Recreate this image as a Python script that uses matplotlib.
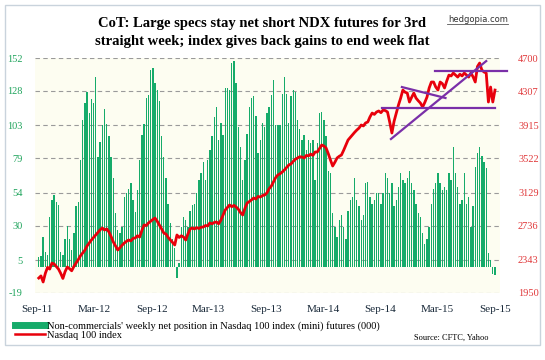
import pandas as pd
import matplotlib.pyplot as plt
from matplotlib.lines import Line2D
from matplotlib.patches import Rectangle

# datos semanales (estimados del grafico)
dates = pd.date_range('2011-09-06', periods=209, freq='7D')

net_position = [7, 8, 22, 11, 9, 36, 49, 52, 47, 45,
                11, 9, 20, 30, 20, 12, 25, 44, 47, 78,
                107, 119, 127, 112, 122, 119, 138, 80, 91, 103,
                115, 104, 95, 80, 65, 39, 27, 25, 29, 51,
                54, 57, 61, 49, 40, 56, 78, 96, 104, 123,
                125, 143, 145, 134, 129, 121, 95, 80, 65, 46,
                32, 20, 14, -8, 3, 29, 36, 34, 29, 41,
                45, 46, 54, 63, 68, 76, 63, 78, 85, 95,
                109, 116, 92, 105, 96, 130, 130, 129, 148, 150,
                134, 102, 87, 63, 78, 97, 116, 123, 124, 110,
                83, 92, 105, 102, 112, 116, 125, 136, 103, 103,
                103, 126, 138, 126, 105, 124, 129, 127, 107, 100,
                92, 96, 85, 92, 90, 92, 63, 90, 112, 113,
                107, 95, 70, 68, 39, 29, 22, 34, 38, 29,
                20, 41, 49, 51, 65, 49, 44, 34, 38, 61,
                62, 51, 46, 49, 54, 54, 46, 54, 68, 65,
                54, 61, 44, 49, 58, 68, 63, 61, 65, 70,
                61, 56, 46, 39, 36, 25, 17, 20, 29, 46,
                57, 61, 68, 61, 56, 58, 56, 68, 63, 87,
                68, 58, 46, 49, 68, 46, 51, 29, 44, 73,
                83, 87, 81, 76, 72, 10, 5, -5, -6]

ndx = [2125, 2150, 2079, 2180, 2250, 2230, 2300, 2290, 2260, 2230,
       2180, 2120, 2200, 2254, 2235, 2210, 2260, 2300, 2340, 2385,
       2418, 2450, 2500, 2535, 2570, 2600, 2629, 2660, 2690, 2710,
       2687, 2700, 2664, 2610, 2547, 2500, 2453, 2480, 2510, 2535,
       2555, 2570, 2560, 2590, 2594, 2620, 2605, 2680, 2746, 2740,
       2769, 2790, 2810, 2827, 2790, 2746, 2700, 2652, 2640, 2600,
       2570, 2540, 2512, 2629, 2600, 2620, 2605, 2570, 2640, 2700,
       2710, 2700, 2715, 2705, 2720, 2722, 2740, 2735, 2769, 2760,
       2775, 2781, 2760, 2800, 2860, 2921, 2950, 2980, 2960, 2975,
       2956, 2930, 2890, 2863, 2940, 3003, 3020, 3040, 3062, 3050,
       3080, 3073, 3090, 3097, 3120, 3170, 3200, 3250, 3300, 3331,
       3345, 3366, 3390, 3420, 3448, 3460, 3490, 3515, 3530, 3545,
       3541, 3530, 3560, 3555, 3575, 3560, 3600, 3600, 3640, 3682,
       3670, 3647, 3580, 3506, 3436, 3480, 3530, 3550, 3565, 3620,
       3680, 3740, 3770, 3800, 3830, 3857, 3880, 3916, 3905, 3940,
       3951, 4010, 4056, 4040, 4068, 4080, 4060, 4091, 4085, 4068,
       3950, 3822, 3960, 4056, 4150, 4231, 4325, 4300, 4290, 4185,
       4240, 4290, 4231, 4200, 4173, 4126, 4180, 4243, 4350, 4419,
       4419, 4360, 4325, 4419, 4400, 4349, 4430, 4500, 4490, 4524,
       4500, 4477, 4510, 4490, 4524, 4500, 4477, 4524, 4480, 4419,
       4600, 4641, 4560, 4536, 4524, 4185, 4360, 4185, 4325]

left_ticks = [-19, 5, 30, 54, 79, 103, 128, 152]
right_ticks = [1950, 2343, 2736, 3129, 3522, 3915, 4307, 4700]
x_ticks = pd.date_range('2011-09-01', '2015-09-01', freq='6MS')
x_labels = [d.strftime('%b-%y') for d in x_ticks]

# lineas de tendencia dibujadas a mano (fecha inicio, valor, fecha fin, valor)
trend_lines = [('2014-10-04', 3752, '2015-08-04', 4664),
               ('2015-02-20', 4550, '2015-10-08', 4550),
               ('2014-09-06', 4115, '2015-09-01', 4115),
               ('2014-11-08', 4360, '2015-03-27', 4232)]

serif = 'Liberation Serif'
green = '#16ab6a'
red = '#e8000b'

fig = plt.figure(figsize=(5.45, 3.6), dpi=100)
fig.add_artist(Rectangle((5 / 545, 1 - 345 / 360), 535 / 545, 340 / 360,
                         transform=fig.transFigure, fill=False,
                         edgecolor='#c9d3dc', lw=1))
ax = fig.add_axes([35 / 545, 1 - 293 / 360, 465 / 545, 235 / 360])
ax.set_facecolor('#fdfdf1')

bars = ax.bar(dates, net_position, width=4.4, color=green, zorder=2)
ax.set_ylim(-19, 152)
ax.set_yticks(left_ticks)
ax.set_yticklabels([str(t) for t in left_ticks], color='#1fa45c',
                   fontsize=7.5, fontname=serif)
ax.set_xlim(pd.Timestamp('2011-08-25'), pd.Timestamp('2015-09-17'))
ax.set_xticks(x_ticks)
ax.set_xticklabels(x_labels, fontsize=8, fontname=serif, color='#1a2a3a')
ax.tick_params(length=0, pad=9)
ax.tick_params(axis='y', pad=9)
for t in left_ticks:
    ax.axhline(t, color='#9a9a9a', lw=0.8, ls=(0, (4, 3)), zorder=1)
for s in ax.spines.values():
    s.set_visible(False)

ax2 = ax.twinx()
line, = ax2.plot(dates, ndx, color=red, lw=2, zorder=3)
for d0, v0, d1, v1 in trend_lines:
    ax2.plot([pd.Timestamp(d0), pd.Timestamp(d1)], [v0, v1],
             color='#7a2fa8', lw=1.6, zorder=4, clip_on=False)
ax2.set_ylim(1950, 4700)
ax2.set_yticks(right_ticks)
ax2.set_yticklabels([str(t) for t in right_ticks], color='#e0383a',
                    fontsize=7.5, fontname=serif)
ax2.tick_params(length=0, pad=13)
for s in ax2.spines.values():
    s.set_visible(False)

fig.text(262 / 545, 1 - 23 / 360,
         'CoT: Large specs stay net short NDX futures for 3rd',
         ha='center', va='center', fontsize=10.5, fontweight='bold',
         fontname=serif)
fig.text(262 / 545, 1 - 42 / 360,
         'straight week; index gives back gains to end week flat',
         ha='center', va='center', fontsize=10.5, fontweight='bold',
         fontname=serif)
fig.text(508 / 545, 1 - 20 / 360, 'hedgopia.com', ha='right', va='center',
         fontsize=6, color='#333333')
fig.add_artist(Line2D([447 / 545, 508 / 545], [1 - 24 / 360, 1 - 24 / 360],
                      transform=fig.transFigure, color='#555555', lw=0.6))

leg = fig.legend([Line2D([], [], color=green, lw=5),
                  Line2D([], [], color=red, lw=1.8)],
                 ["Non-commercials' weekly net position in Nasdaq 100 index (mini) futures (000)",
                  'Nasdaq 100 index'],
                 loc='upper left', bbox_to_anchor=(15 / 545, 1 - 321 / 360),
                 frameon=False, handlelength=2.9, handletextpad=0.15,
                 labelspacing=-0.05, borderpad=0, borderaxespad=0,
                 prop={'family': serif, 'size': 7.5})
fig.text(489 / 545, 1 - 338 / 360, 'Source: CFTC, Yahoo', ha='right',
         va='center', fontsize=6, fontname=serif)

fig.savefig('out.png', dpi=100)
